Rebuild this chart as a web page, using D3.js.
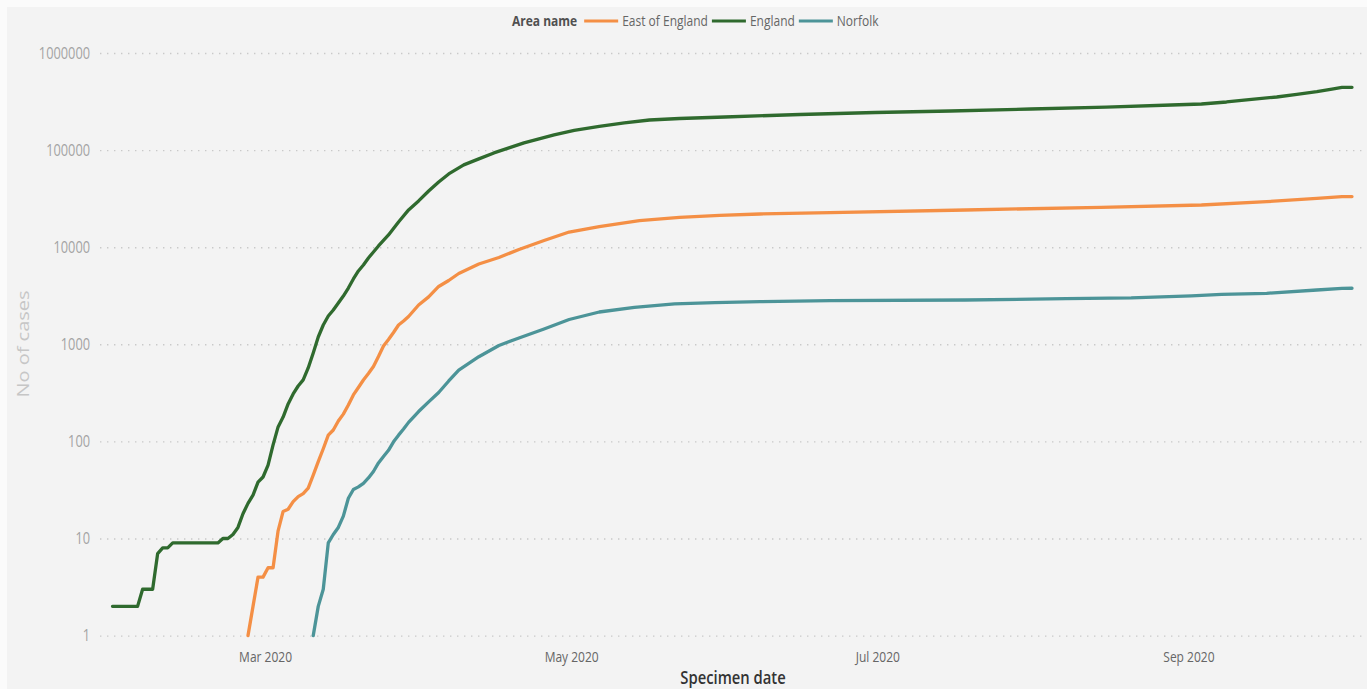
<!DOCTYPE html>
<html>
<head>
<meta charset="utf-8">
<script src="https://cdn.jsdelivr.net/npm/d3@7"></script>
<style>
  html, body { margin: 0; padding: 0; background: #fbfbfb; }
  svg { display: block; }
  text { font-family: "Open Sans", "Noto Sans", sans-serif; }
</style>
</head>
<body>
<svg id="chart" width="1367" height="689"></svg>
<script>
// Cumulative confirmed cases by specimen date (log scale)
const areaNames = ["East of England", "England", "Norfolk"];
const areaColors = ["#F48F45", "#2F6A2E", "#4C9498"];

const englandDates = [
  "2020-01-30","2020-02-04","2020-02-05","2020-02-07","2020-02-08","2020-02-09","2020-02-10",
  "2020-02-11","2020-02-20","2020-02-21","2020-02-22","2020-02-23","2020-02-24","2020-02-25",
  "2020-02-26","2020-02-27","2020-02-28","2020-02-29","2020-03-01","2020-03-02","2020-03-03",
  "2020-03-04","2020-03-05","2020-03-06","2020-03-07","2020-03-08","2020-03-09","2020-03-10",
  "2020-03-11","2020-03-12","2020-03-13","2020-03-14","2020-03-15","2020-03-16","2020-03-17",
  "2020-03-18","2020-03-19","2020-03-20","2020-03-21","2020-03-22","2020-03-23","2020-03-25",
  "2020-03-27","2020-03-29","2020-03-31","2020-04-02","2020-04-04","2020-04-06","2020-04-09",
  "2020-04-12","2020-04-15","2020-04-18","2020-04-21","2020-04-24","2020-04-27","2020-05-01",
  "2020-05-06","2020-05-11","2020-05-16","2020-05-22","2020-05-31","2020-06-15","2020-06-30",
  "2020-07-15","2020-07-31","2020-08-15","2020-08-28","2020-09-03","2020-09-08","2020-09-13",
  "2020-09-18","2020-09-22","2020-09-26","2020-09-29","2020-10-01","2020-10-03"
];
const englandCases = [
  2, 2, 3, 3, 7, 8, 8,
  9, 9, 10, 10, 11, 13, 18,
  23, 28, 38, 43, 57, 92, 141,
  178, 243, 308, 372, 430, 571, 813,
  1189, 1580, 1956, 2255, 2663, 3143, 3800,
  4710, 5690, 6560, 7750, 8930, 10300, 13370,
  18200, 24200, 29950, 37930, 46950, 56850, 70400,
  81200, 93500, 105300, 118600, 130300, 143300, 159400,
  175100, 190200, 204200, 211500, 219100, 232700, 243900,
  252800, 265000, 277700, 291300, 298400, 313000, 333600,
  352300, 374000, 399200, 425700, 441600, 443000
];

const eastDates = [
  "2020-02-26","2020-02-27","2020-02-28","2020-02-29","2020-03-01","2020-03-02","2020-03-03",
  "2020-03-04","2020-03-05","2020-03-06","2020-03-07","2020-03-08","2020-03-09","2020-03-10",
  "2020-03-11","2020-03-12","2020-03-13","2020-03-14","2020-03-15","2020-03-16","2020-03-17",
  "2020-03-18","2020-03-19","2020-03-20","2020-03-21","2020-03-22","2020-03-23","2020-03-24",
  "2020-03-25","2020-03-26","2020-03-27","2020-03-28","2020-03-29","2020-03-31","2020-04-02",
  "2020-04-04","2020-04-06","2020-04-08","2020-04-12","2020-04-16","2020-04-20","2020-04-25",
  "2020-04-30","2020-05-06","2020-05-14","2020-05-22","2020-05-30","2020-06-07","2020-06-21",
  "2020-07-18","2020-08-14","2020-09-03","2020-09-16","2020-09-26","2020-10-01","2020-10-03"
];
const eastCases = [
  1, 2, 4, 4, 5, 5, 12,
  19, 20, 24, 27, 29, 33, 45,
  62, 84, 116, 131, 162, 191, 237,
  301, 359, 429, 500, 591, 748, 960,
  1120, 1323, 1581, 1738, 1933, 2540, 3080,
  3940, 4540, 5360, 6714, 7830, 9470, 11710,
  14330, 16250, 18750, 20320, 21310, 21980, 22660,
  24150, 25760, 27210, 29420, 31900, 33140, 33200
];

const norfolkDates = [
  "2020-03-10","2020-03-11","2020-03-12","2020-03-13","2020-03-14","2020-03-15","2020-03-16",
  "2020-03-17","2020-03-18","2020-03-19","2020-03-20","2020-03-21","2020-03-22","2020-03-23",
  "2020-03-24","2020-03-25","2020-03-26","2020-03-27","2020-03-28","2020-03-29","2020-03-31",
  "2020-04-02","2020-04-04","2020-04-06","2020-04-08","2020-04-12","2020-04-16","2020-04-20",
  "2020-04-25","2020-04-30","2020-05-06","2020-05-13","2020-05-21","2020-05-29","2020-06-07",
  "2020-06-21","2020-07-18","2020-08-07","2020-08-20","2020-09-01","2020-09-07","2020-09-16",
  "2020-09-26","2020-10-01","2020-10-03"
];
const norfolkCases = [
  1, 2, 3, 9, 11, 13, 17,
  26, 32, 34, 37, 42, 49, 60,
  70, 81, 99, 116, 134, 157, 203,
  255, 319, 419, 543, 745, 973, 1161,
  1438, 1800, 2151, 2406, 2602, 2682, 2746,
  2812, 2858, 2949, 3000, 3150, 3273, 3352,
  3625, 3774, 3780
];

const yTickValues = [1, 10, 100, 1000, 10000, 100000, 1000000];
const xTickDates = ["2020-03-01", "2020-05-01", "2020-07-01", "2020-09-01"];
const xTickLabels = ["Mar 2020", "May 2020", "Jul 2020", "Sep 2020"];
const legendTitle = "Area name";
const xAxisTitle = "Specimen date";
const yAxisTitle = "No of cases";

// ---- drawing ----
const W = 1367, H = 689;
const squeeze = 0.8;           // condensed look of the report text
const parse = d3.timeParse("%Y-%m-%d");

const series = [
  { name: areaNames[0], color: areaColors[0], dates: eastDates, values: eastCases },
  { name: areaNames[1], color: areaColors[1], dates: englandDates, values: englandCases },
  { name: areaNames[2], color: areaColors[2], dates: norfolkDates, values: norfolkCases }
].map(s => ({ ...s, points: s.dates.map((d, i) => ({ date: parse(d), value: s.values[i] })) }));

const svg = d3.select("#chart");

svg.append("rect")
  .attr("x", 7).attr("y", 7)
  .attr("width", W - 7).attr("height", H - 7)
  .attr("fill", "#f3f3f3");

const x = d3.scaleTime()
  .domain([parse("2020-01-30"), parse("2020-10-03")])
  .range([112.5, 1352]);

const y = d3.scaleLog()
  .domain([1, 1000000])
  .range([635.6, 53]);

const gridLeft = 100;

// dotted horizontal gridlines
const grid = svg.append("g")
  .attr("transform", `translate(${gridLeft},0)`)
  .call(d3.axisLeft(y).tickValues(yTickValues).tickSize(-(W - gridLeft)).tickFormat(""));
grid.select(".domain").remove();
grid.selectAll("line")
  .attr("stroke", "#c9c9c9")
  .attr("stroke-width", 1.4)
  .attr("stroke-dasharray", "1.4,5.6");

// y axis labels
const yAxis = svg.append("g")
  .attr("transform", `translate(${gridLeft},0)`)
  .call(d3.axisLeft(y).tickValues(yTickValues).tickSize(0).tickPadding(12.5)
    .tickFormat(d3.format("d")));
yAxis.select(".domain").remove();
yAxis.selectAll("text")
  .attr("fill", "#a3a3a3")
  .style("font-size", "16px")
  .attr("transform", `scale(${squeeze},1)`);

// x axis labels
const xAxis = svg.append("g")
  .attr("transform", `translate(0,${y(1)})`)
  .call(d3.axisBottom(x).tickValues(xTickDates.map(parse)).tickSize(0).tickPadding(15.5)
    .tickFormat((d, i) => xTickLabels[i]));
xAxis.select(".domain").remove();
xAxis.selectAll("text")
  .attr("fill", "#666")
  .style("font-size", "15px")
  .attr("transform", `translate(-3,0) scale(${squeeze},1)`);

// axis titles
svg.append("text")
  .attr("transform", `translate(733,684) scale(${squeeze},1)`)
  .attr("text-anchor", "middle")
  .attr("fill", "#333")
  .style("font-size", "18.5px")
  .style("font-weight", 600)
  .text(xAxisTitle);

svg.append("text")
  .attr("transform", `translate(29,344) scale(${squeeze},1) rotate(-90)`)
  .attr("text-anchor", "middle")
  .attr("fill", "#c6c6c6")
  .style("font-size", "20px")
  .text(yAxisTitle);

// series lines
const line = d3.line()
  .x(d => x(d.date))
  .y(d => y(d.value));

svg.append("g").selectAll("path")
  .data(series)
  .join("path")
  .attr("d", s => line(s.points))
  .attr("fill", "none")
  .attr("stroke", s => s.color)
  .attr("stroke-width", 3.3)
  .attr("stroke-linejoin", "round")
  .attr("stroke-linecap", "round");

// legend
const legend = svg.append("g").attr("transform", "translate(512,26)");
let cursor = 0;
const title = legend.append("text")
  .attr("fill", "#505050")
  .style("font-size", "15px")
  .style("font-weight", 700)
  .text(legendTitle);
title.attr("transform", `translate(${cursor},0) scale(${squeeze},1)`);
cursor += title.node().getComputedTextLength() * squeeze + 7;

series.forEach(s => {
  legend.append("line")
    .attr("x1", cursor).attr("x2", cursor + 34)
    .attr("y1", -5).attr("y2", -5)
    .attr("stroke", s.color)
    .attr("stroke-width", 3);
  cursor += 38;
  const t = legend.append("text")
    .attr("fill", "#666")
    .style("font-size", "15px")
    .text(s.name)
    .attr("transform", `translate(${cursor},0) scale(${squeeze},1)`);
  cursor += t.node().getComputedTextLength() * squeeze + 4;
});
</script>
</body>
</html>
